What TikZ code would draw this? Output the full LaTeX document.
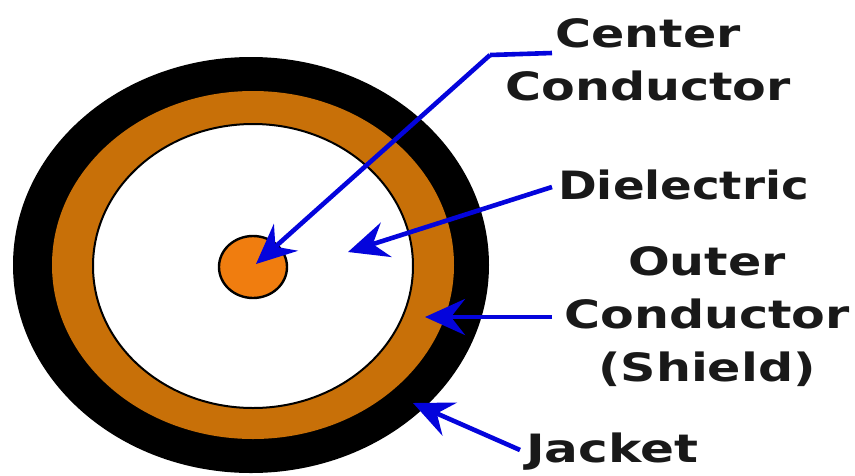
\documentclass[tikz,border=0pt]{standalone}
\usepackage{fontspec}
\setmainfont{DejaVu Sans}
\usetikzlibrary{arrows.meta}
\definecolor{shield}{RGB}{200,112,8}
\definecolor{core}{RGB}{240,125,15}
\definecolor{arrowblue}{RGB}{4,4,220}
\tikzset{
  px/.style={x=1pt,y=-1pt},
  lbl/.style={font=\bfseries\fontsize{39}{53}\selectfont,text=black!90,align=center,inner sep=0pt,xscale=1.26,transform shape},
  conn/.style={draw=arrowblue,line width=4.6pt,-{Stealth[length=40pt,width=36pt,inset=14pt]}},
  stem/.style={draw=arrowblue,line width=4.6pt}
}
\begin{document}
\begin{tikzpicture}[px]
\useasboundingbox (0,0) rectangle (855,475);
\fill[white] (0,0) rectangle (855,475);
\fill[black] (251,265) ellipse [x radius=238,y radius=208];
\fill[shield] (253,265) ellipse [x radius=201,y radius=174];
\filldraw[fill=white,draw=black,line width=2pt] (253,266) ellipse [x radius=160,y radius=142];
\filldraw[fill=core,draw=black,line width=2.4pt] (253,267) ellipse [x radius=34,y radius=31];
\node[lbl] (center) at (648,60) {Center\\Conductor};
\node[lbl,anchor=west,xscale=0.95] (diel) at (558,185) {Dielectric};
\node[lbl] (outer) at (707,317) {Outer\\Conductor\\(Shield)};
\node[lbl,anchor=west,xscale=1.02] (jacket) at (526,452) {Jacket};
\coordinate (c1) at (552,53);
\coordinate (c2) at (490,55);
\coordinate (c3) at (256,264);
\coordinate (d1) at (552,187);
\coordinate (d2) at (348,252);
\coordinate (o1) at (552,317);
\coordinate (o2) at (425,317);
\coordinate (j1) at (520,450);
\coordinate (j2) at (413,403);
\draw[stem] (c1) -- (c2);
\draw[conn] (c2) -- (c3);
\draw[conn] (d1) -- (d2);
\draw[conn] (o1) -- (o2);
\draw[conn] (j1) -- (j2);
\end{tikzpicture}
\end{document}
